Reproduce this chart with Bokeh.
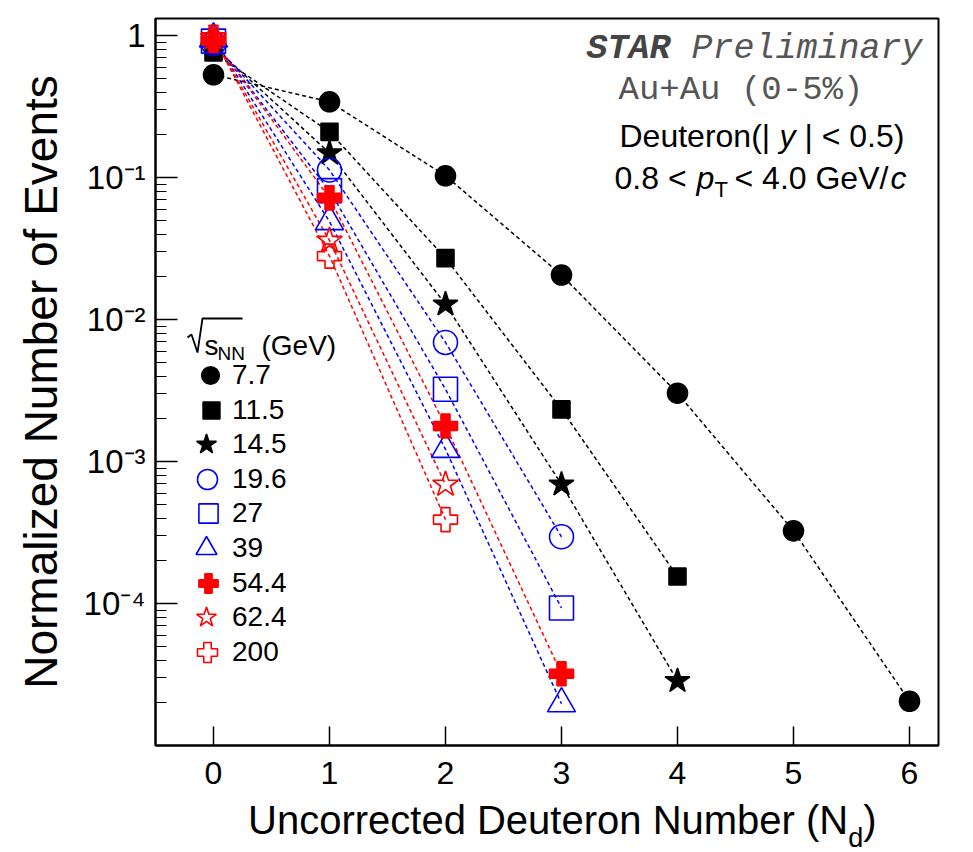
from bokeh.plotting import figure
from bokeh.models import (Label, Legend, LegendItem, FixedTicker, CustomJSTickFormatter,
                          PolyAnnotation, Div)
from bokeh.layouts import column
from bokeh.embed import file_html
from bokeh.resources import INLINE

# ---------------- data ----------------
energies = ["7.7", "11.5", "14.5", "19.6", "27", "39", "54.4", "62.4", "200"]

nd_77 = [0, 1, 2, 3, 4, 5, 6]
p_77 = [0.53, 0.342, 0.103, 0.0206, 0.00303, 3.25e-4, 2.05e-5]
nd_115 = [0, 1, 2, 3, 4]
p_115 = [0.76, 0.210, 0.0271, 0.00233, 1.55e-4]
nd_145 = [0, 1, 2, 3, 4]
p_145 = [0.84, 0.149, 0.0128, 6.9e-4, 2.85e-5]
nd_196 = [0, 1, 2, 3]
p_196 = [0.88, 0.113, 0.0069, 2.95e-4]
nd_27 = [0, 1, 2, 3]
p_27 = [0.915, 0.081, 0.00323, 9.3e-5]
nd_39 = [0, 1, 2, 3]
p_39 = [0.95, 0.049, 0.00122, 1.97e-5]
nd_544 = [0, 1, 2, 3]
p_544 = [0.925, 0.072, 0.00178, 3.2e-5]
nd_624 = [0, 1, 2]
p_624 = [0.963, 0.036, 6.9e-4]
nd_200 = [0, 1, 2]
p_200 = [0.972, 0.028, 3.9e-4]

x_ticks = [0, 1, 2, 3, 4, 5, 6]
y_ticks = [1e-4, 1e-3, 1e-2, 1e-1, 1]

series = [
    (nd_77, p_77), (nd_115, p_115), (nd_145, p_145),
    (nd_196, p_196), (nd_27, p_27), (nd_39, p_39),
    (nd_544, p_544), (nd_624, p_624), (nd_200, p_200),
]

BLUE = "#0000ff"
RED = "#ff0000"
# marker style per series; "lg" = legend glyph box (marker drawn at 0.4 of it)
styles = [
    dict(marker="circle", size=20, fill_color="black", line_color="black", lc="black", lg=44),
    dict(marker="square", size=17, fill_color="black", line_color="black", lc="black", lg=42),
    dict(marker="star", size=26, fill_color="black", line_color="black", lc="black", lg=52),
    dict(marker="circle", size=24, fill_color=None, line_color=BLUE, lc=BLUE, lg=50),
    dict(marker="square", size=24, fill_color=None, line_color=BLUE, lc=BLUE, lg=48),
    dict(marker="triangle", size=28, fill_color=None, line_color=BLUE, lc=BLUE, lg=52),
    dict(marker="plus", size=24, fill_color=RED, line_color=RED, lc=RED, lg=48),
    dict(marker="star", size=27, fill_color=None, line_color=RED, lc=RED, lg=52),
    dict(marker="plus", size=24, fill_color=None, line_color=RED, lc=RED, lg=50),
]

FL, FB = 155, 745  # frame left / bottom in canvas px

p = figure(width=973, height=800, x_range=(-0.5, 6.25), y_range=(1e-5, 1.32),
           y_axis_type="log", output_backend="svg", toolbar_location=None,
           min_border_left=FL, min_border_right=35, min_border_top=18,
           min_border_bottom=55)
p.xgrid.visible = False
p.ygrid.visible = False
p.outline_line_color = "black"
p.outline_line_width = 2
p.background_fill_color = "white"
p.border_fill_color = "white"

# x axis
p.xaxis.ticker = FixedTicker(ticks=x_ticks, minor_ticks=[])
p.xaxis.major_tick_in = 19
p.xaxis.major_tick_out = 0
p.xaxis.minor_tick_line_color = None
p.xaxis.major_label_text_font = "Liberation Sans"
p.xaxis.major_label_text_font_size = "32px"
p.xaxis.major_label_text_color = "black"
p.xaxis.major_label_standoff = 16
p.xaxis.axis_line_width = 2
p.xaxis.major_tick_line_width = 1.5

# y axis
minor = [k * 10.0 ** e for e in range(-5, 1) for k in range(2, 10) if k * 10.0 ** e <= 1.32]
p.yaxis.ticker = FixedTicker(ticks=y_ticks, minor_ticks=minor)
p.yaxis.formatter = CustomJSTickFormatter(code="""
const e = Math.round(Math.log10(tick));
if (e == 0) { return "1"; }
const sup = {"-": "\u207b", "0": "\u2070", "1": "\u00b9", "2": "\u00b2", "3": "\u00b3", "4": "\u2074", "5": "\u2075"};
return "10" + String(e).split("").map(c => sup[c]).join("");
""")
p.yaxis.major_tick_in = 22
p.yaxis.major_tick_out = 0
p.yaxis.minor_tick_in = 11
p.yaxis.minor_tick_out = 0
p.yaxis.major_label_text_font = "Liberation Sans"
p.yaxis.major_label_text_font_size = "33px"
p.yaxis.major_label_text_color = "black"
p.yaxis.major_label_standoff = 10
p.yaxis.axis_line_width = 2
p.yaxis.major_tick_line_width = 1.5
p.yaxis.axis_label = "Normalized Number of Events"
p.yaxis.axis_label_text_font = "Liberation Sans"
p.yaxis.axis_label_text_font_size = "46px"
p.yaxis.axis_label_text_font_style = "normal"
p.yaxis.axis_label_text_color = "black"
p.yaxis.axis_label_standoff = 14

# data
renderers = []
for (nd, pv), st in zip(series, styles):
    p.line(nd, pv, line_color=st["lc"], line_width=1.5, line_dash="4 3")
for (nd, pv), st in zip(series, styles):
    r = p.scatter(nd, pv, marker=st["marker"], size=st["size"],
                  fill_color=st["fill_color"], line_color=st["line_color"],
                  line_width=1.6)
    renderers.append(r)

# legend: one row per series, rows 34.6 px apart, labels starting at x = 232 px
LX, ROW0, DROW = 232, 375, 34.6
for i, (name, r, st) in enumerate(zip(energies, renderers, styles)):
    g = st["lg"]
    yc = ROW0 + DROW * i
    lg = Legend(items=[LegendItem(label=name, renderers=[r])],
                location=(LX - g - FL, FB - (yc + g / 2)),
                glyph_width=g, glyph_height=g, spacing=0, padding=0, margin=0,
                label_standoff=0,
                label_text_font="Liberation Sans", label_text_font_size="28px",
                label_text_color="black", label_text_baseline="middle",
                border_line_color=None, background_fill_alpha=0)
    p.add_layout(lg, "center")


def lab(text, cx, cy, size, font="Liberation Sans", style="normal", color="black",
        align="left", baseline="alphabetic"):
    return Label(x=cx - FL, y=FB - cy, x_units="screen", y_units="screen", text=text,
                 text_font=font, text_font_size=f"{size}px", text_font_style=style,
                 text_color=color, text_align=align, text_baseline=baseline)


labels = [
    # top-right block
    lab("STAR", 586, 48, 35, font="Liberation Mono", style="bold italic", color="#444444"),
    lab("Preliminary", 691, 48, 35, font="Liberation Mono", style="italic", color="#555555"),
    lab("Au+Au (0-5%)", 618, 89, 34, font="Liberation Mono", color="#555555"),
    lab("Deuteron(|", 619, 135, 32),
    lab("y", 779, 135, 32, style="italic"),
    lab("| < 0.5)", 804, 135, 32),
    lab("0.8 <", 614, 177, 32),
    lab("p", 696, 177, 32, style="italic"),
    lab("T", 714, 189, 22),
    lab("< 4.0 GeV/", 734, 177, 32),
    lab("c", 890, 177, 32, style="italic"),
    # legend header
    lab("s", 204, 345, 28),
    lab("NN", 217, 353, 19),
    lab("(GeV)", 261, 345, 28),
]
for l in labels:
    p.add_layout(l)

# radical sign of the legend header (drawn as a stroke path, traced forth and back)
rad = [(187, 337), (191, 334), (197, 352), (202, 318), (242, 318)]
path = rad + rad[-2:0:-1]
p.add_layout(PolyAnnotation(xs=[x - FL for x, _ in path], ys=[FB - y for _, y in path],
                            xs_units="screen", ys_units="screen",
                            fill_color=None, fill_alpha=0, line_color="black",
                            line_alpha=1.0, line_width=1.8))

xtitle = Div(
    text=('<div style="padding-left:248px; font-family:\'Liberation Sans\'; '
          'font-size:40px; line-height:40px; color:black; white-space:nowrap;">'
          'Uncorrected Deuteron Number (N<span style="position:relative; top:13px; '
          'font-size:27px;">d</span>)</div>'),
    width=973, height=52, margin=(0, 0, 0, 0))

layout = column(p, xtitle, spacing=0)
open("out.html", "w").write(file_html(layout, INLINE))
